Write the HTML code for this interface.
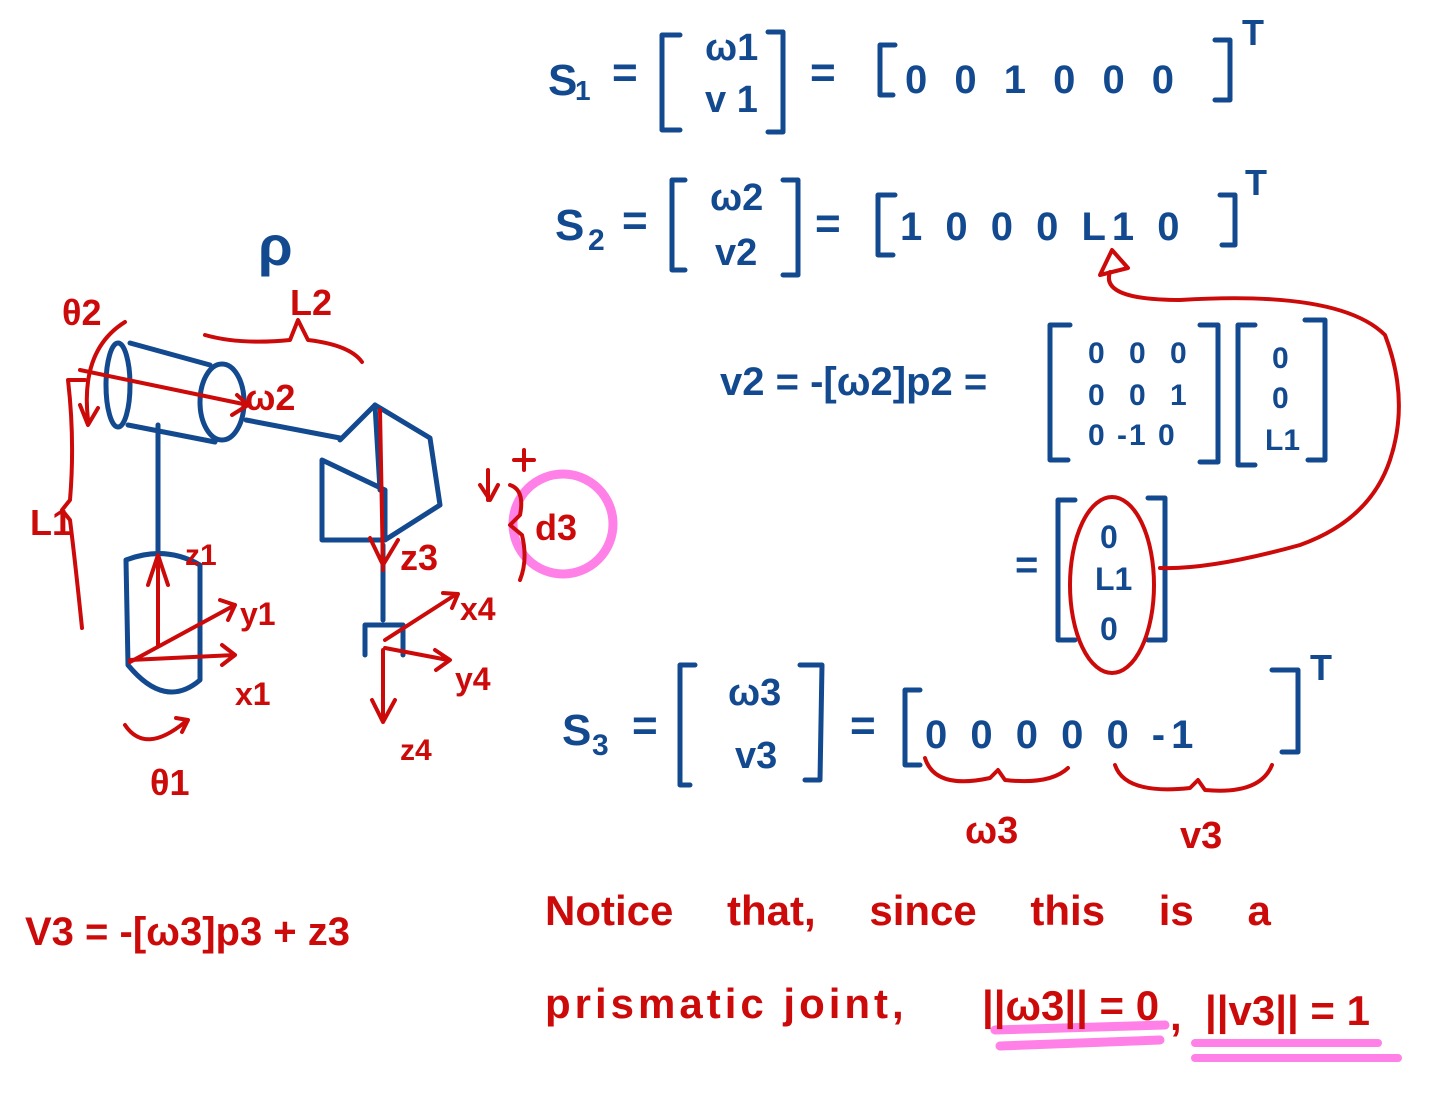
<!DOCTYPE html>
<html><head><meta charset="utf-8"><style>
html,body{margin:0;padding:0;background:#fff;width:1440px;height:1113px;overflow:hidden}
svg{display:block}
text{font-family:"Liberation Sans",sans-serif;font-weight:bold}
.b{fill:#12498f}
.r{fill:#cc0a0a}
</style></head><body>
<svg width="1440" height="1113" viewBox="0 0 1440 1113">
<g fill="none" stroke-linecap="round" stroke-linejoin="round">
<circle cx="563" cy="524" r="50" stroke="#ff80e6" stroke-width="9"/>
<path d="M995 1030 L1165 1025 M1000 1046 L1160 1040" stroke="#ff80e6" stroke-width="9"/>
<path d="M1195 1043 L1378 1043 M1195 1058 L1398 1058" stroke="#ff80e6" stroke-width="8"/>

<g stroke="#12498f" stroke-width="5">
<ellipse cx="118" cy="385" rx="12" ry="42"/>
<ellipse cx="222" cy="402" rx="22" ry="38"/>
<path d="M130 343 L210 365 M128 425 L215 442"/>
<path d="M246 420 L340 438"/>
<path d="M158 425 L158 555"/>
<path d="M126 560 Q165 545 200 565 L200 680 Q165 710 128 665 Z"/>
<path d="M340 440 L375 405 L430 438 L440 505 L385 540 L322 540 L322 460 L385 490 L385 540"/>
<path d="M375 405 L380 490"/>
<path d="M383 545 L383 620 M365 655 L365 625 L403 625 L403 655"/>
<path d="M680 35 L662 35 L662 130 L680 130 M768 32 L783 32 L783 132 L768 132"/>
<path d="M895 45 L880 45 L880 95 L893 95 M1215 40 L1230 40 L1230 100 L1215 100"/>
<path d="M685 180 L672 180 L672 270 L685 270 M783 180 L798 180 L798 275 L783 275"/>
<path d="M895 195 L878 195 L878 255 L893 255 M1220 195 L1235 195 L1235 245 L1222 245"/>
<path d="M1070 325 L1050 325 L1050 460 L1068 460 M1200 325 L1218 325 L1218 462 L1200 462"/>
<path d="M1255 325 L1238 325 L1238 465 L1255 465 M1305 320 L1325 320 L1325 460 L1308 460"/>
<path d="M1075 500 L1058 500 L1058 640 L1075 640 M1148 498 L1165 498 L1165 640 L1148 640"/>
<path d="M695 665 L680 665 L680 785 L690 785 M800 665 L822 665 L820 780 L805 780"/>
<path d="M920 690 L905 690 L905 765 L920 765 M1272 670 L1298 670 L1298 752 L1282 752"/>
</g>

<g stroke="#cc0a0a" stroke-width="4">
<path d="M80 370 L248 405 M237 395 L248 405 L232 415"/>
<path d="M125 322 Q80 350 88 420 M80 405 L88 425 L98 408"/>
<path d="M85 380 L68 380 Q75 440 70 500 L62 510 L70 520 Q75 560 82 628"/>
<path d="M205 335 Q240 345 290 340 L298 320 L308 340 Q350 345 362 362"/>
<path d="M158 645 L158 560 M148 585 L158 555 L168 585"/>
<path d="M130 662 L235 605 M220 600 L235 605 L228 620"/>
<path d="M130 660 L235 655 M222 645 L235 655 L222 665"/>
<path d="M125 725 Q145 755 185 722 M176 718 L188 720 L182 732"/>
<path d="M380 410 L383 570 M370 538 L383 565 L398 540"/>
<path d="M385 640 L455 595 M443 593 L458 594 L452 608"/>
<path d="M385 648 L448 660 M435 650 L450 660 L436 670"/>
<path d="M383 650 L383 722 M372 700 L383 722 L395 700"/>
<path d="M488 470 L488 500 M480 485 L490 500 L498 485"/>
<path d="M514 460 L534 460 M524 450 L524 470"/>
<path d="M510 485 Q525 490 520 515 L510 525 L522 535 Q528 560 520 580"/>
<path d="M925 758 Q935 790 990 778 L998 770 L1005 780 Q1050 785 1068 768"/>
<path d="M1115 765 Q1125 795 1190 788 L1198 780 L1205 790 Q1260 795 1272 765"/>
<path d="M1110 272 Q1100 300 1180 300 Q1340 290 1385 335 Q1410 400 1390 460 Q1370 520 1300 545 Q1210 570 1160 568"/>
<path d="M1100 275 L1112 250 L1128 268 Z"/>
<ellipse cx="1112" cy="585" rx="42" ry="88"/>
</g>
</g>

<g class="b" font-size="44">
<text x="548" y="95">S</text><text x="575" y="100" font-size="28">1</text><text x="612" y="87">=</text>
<text x="705" y="60" font-size="38">ω1</text><text x="705" y="112" font-size="38">v 1</text>
<text x="810" y="87">=</text>
<text x="905" y="93" font-size="40" letter-spacing="8">0 0 1  0 0 0</text>
<text x="1242" y="45" font-size="36">T</text>
<text x="555" y="240">S</text><text x="588" y="250" font-size="30">2</text><text x="622" y="235">=</text>
<text x="710" y="210" font-size="38">ω2</text><text x="715" y="265" font-size="38">v2</text>
<text x="815" y="238">=</text>
<text x="900" y="240" font-size="40" letter-spacing="6">1 0 0 0 L1 0</text>
<text x="1245" y="195" font-size="36">T</text>
<text x="720" y="395" font-size="40">v2 = -[ω2]p2 =</text>
<text x="1088" y="363" font-size="30" letter-spacing="8">0 0 0</text>
<text x="1088" y="405" font-size="30" letter-spacing="8">0 0 1</text>
<text x="1088" y="445" font-size="30" letter-spacing="2">0 -1 0</text>
<text x="1272" y="368" font-size="30">0</text><text x="1272" y="408" font-size="30">0</text><text x="1265" y="450" font-size="30">L1</text>
<text x="1015" y="578" font-size="40">=</text>
<text x="1100" y="548" font-size="32">0</text><text x="1095" y="590" font-size="32">L1</text><text x="1100" y="640" font-size="32">0</text>
<text x="562" y="745">S</text><text x="592" y="755" font-size="30">3</text><text x="632" y="740">=</text>
<text x="728" y="705" font-size="38">ω3</text><text x="735" y="768" font-size="38">v3</text>
<text x="850" y="740">=</text>
<text x="925" y="748" font-size="40" letter-spacing="6">0 0 0  0 0 -1</text>
<text x="1310" y="680" font-size="36">T</text>
<text x="258" y="265" font-size="56">ρ</text>
</g>

<g class="r" font-size="36">
<text x="62" y="325">θ2</text>
<text x="290" y="315">L2</text>
<text x="245" y="410">ω2</text>
<text x="30" y="535">L1</text>
<text x="185" y="565" font-size="30">z1</text>
<text x="240" y="625" font-size="32">y1</text>
<text x="235" y="705" font-size="32">x1</text>
<text x="150" y="795">θ1</text>
<text x="400" y="570">z3</text>
<text x="460" y="620" font-size="32">x4</text>
<text x="455" y="690" font-size="32">y4</text>
<text x="400" y="760" font-size="30">z4</text>
<text x="535" y="540">d3</text>
<text x="965" y="843" font-size="38">ω3</text>
<text x="1180" y="848" font-size="38">v3</text>
<text x="25" y="945" font-size="40">V3 = -[ω3]p3 + z3</text>
<text x="545" y="925" font-size="42" word-spacing="42">Notice that, since this is a</text>
<text x="545" y="1018" font-size="42" letter-spacing="4">prismatic joint,</text>
<text x="982" y="1020" font-size="42">||ω3|| = 0</text>
<text x="1170" y="1030" font-size="42">,</text>
<text x="1205" y="1025" font-size="42">||v3|| = 1</text>
</g>
</svg>
</body></html>
